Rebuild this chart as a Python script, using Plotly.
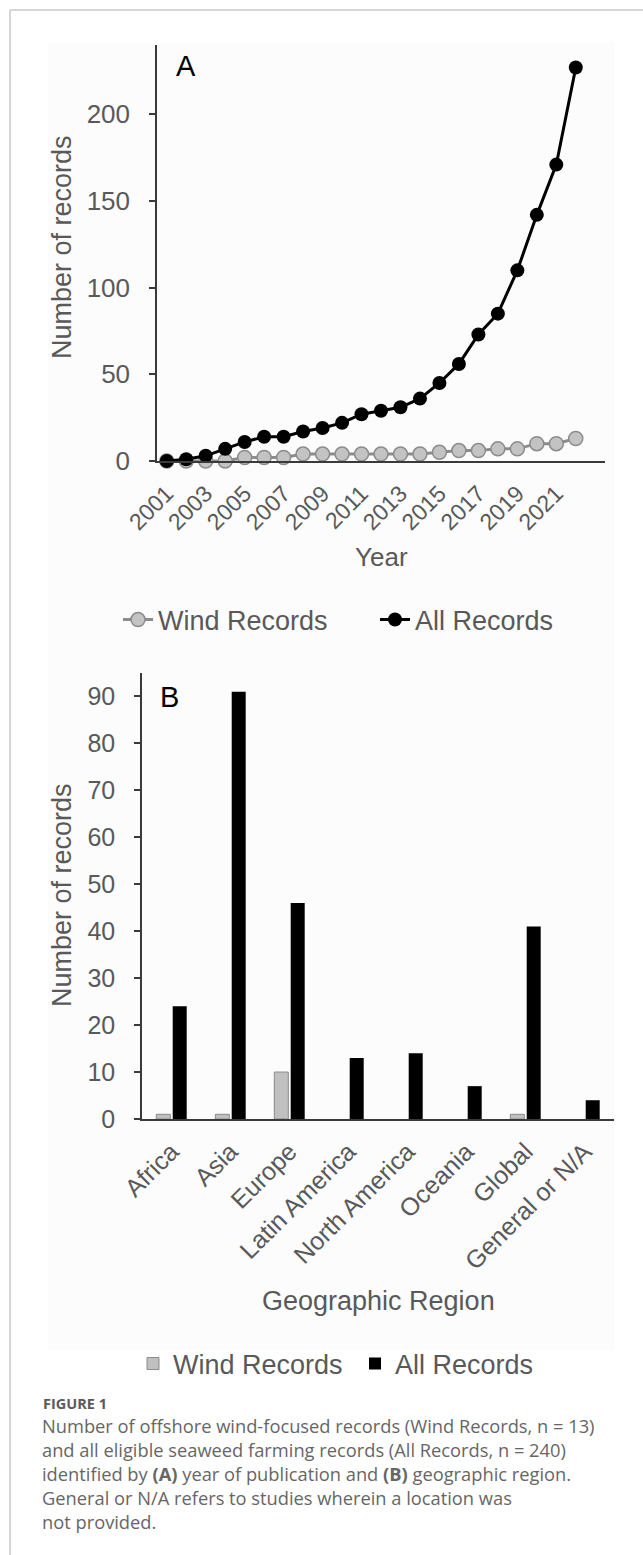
import plotly.graph_objects as go

W, H = 643, 1555

# ---------------- data ----------------
years = list(range(2001, 2023))
wind_by_year = [0, 0, 0, 0, 2, 2, 2, 4, 4, 4, 4, 4, 4, 4, 5, 6, 6, 7, 7, 10, 10, 13]
all_by_year = [0, 1, 3, 7, 11, 14, 14, 17, 19, 22, 27, 29, 31, 36, 45, 56, 73, 85, 110, 142, 171, 227]
year_ticks = list(range(2001, 2022, 2))
a_yticks = [0, 50, 100, 150, 200]

regions = ["Africa", "Asia", "Europe", "Latin America", "North America",
           "Oceania", "Global", "General or N/A"]
wind_by_region = [1, 1, 10, 0, 0, 0, 1, 0]
all_by_region = [24, 91, 46, 13, 14, 7, 41, 4]
b_yticks = [0, 10, 20, 30, 40, 50, 60, 70, 80, 90]

caption_lines = [
    "Number of offshore wind-focused records (Wind Records, n = 13)",
    "and all eligible seaweed farming records (All Records, n = 240)",
    "identified by <b>(A)</b> year of publication and <b>(B)</b> geographic region.",
    "General or N/A refers to studies wherein a location was",
    "not provided.",
]

# ---------------- helpers ----------------
def px(x):
    return x / W

def py(y):
    return 1 - y / H

FONT = "Liberation Sans, Arial, Helvetica, sans-serif"
CAP_FONT = "Open Sans, Noto Sans, sans-serif"
GREY_TXT = "#595959"
AXIS = "#3a3a3a"

fig = go.Figure()

# ---------------- panel A ----------------
fig.add_trace(go.Scatter(
    x=years, y=wind_by_year, name="Wind Records", mode="lines+markers",
    line=dict(color="#8c8c8c", width=3),
    marker=dict(color="#c3c3c3", size=14, line=dict(color="#8c8c8c", width=1.5)),
    cliponaxis=False, xaxis="x", yaxis="y", legend="legend",
))
fig.add_trace(go.Scatter(
    x=years, y=all_by_year, name="All Records", mode="lines+markers",
    line=dict(color="#000000", width=3),
    marker=dict(color="#000000", size=14),
    cliponaxis=False, xaxis="x", yaxis="y", legend="legend",
))

# ---------------- panel B ----------------
fig.add_trace(go.Bar(
    x=regions, y=wind_by_region, name="Wind Records",
    marker=dict(color="#c0c0c0",
                line=dict(color="#8a8a8a", width=[1 if v > 0 else 0 for v in wind_by_region])),
    xaxis="x2", yaxis="y2", legend="legend2",
))
fig.add_trace(go.Bar(
    x=regions, y=all_by_region, name="All Records",
    marker=dict(color="#000000", line=dict(color="#000000", width=0)),
    xaxis="x2", yaxis="y2", legend="legend2",
))

fig.update_layout(
    template="none",
    width=W, height=H,
    margin=dict(l=0, r=0, t=0, b=0, pad=0, autoexpand=False),
    paper_bgcolor="white", plot_bgcolor="rgba(0,0,0,0)",
    font=dict(family=FONT, color=GREY_TXT),
    barmode="group", bargap=0.444, bargroupgap=0.146,
    xaxis=dict(
        domain=[px(157), px(605)], anchor="y", automargin=False,
        range=[2000.5, 2023.5], tickmode="array", tickvals=year_ticks,
        ticktext=[str(v) for v in year_ticks],
        tickangle=-45, tickfont=dict(size=23, color=GREY_TXT),
        showline=True, linecolor=AXIS, linewidth=2, ticks="",
        showgrid=False, zeroline=False, ticklabelstandoff=8,
    ),
    yaxis=dict(
        domain=[py(461), py(45)], anchor="x", automargin=False,
        range=[0, 240], tickmode="array", tickvals=a_yticks,
        tickfont=dict(size=26, color=GREY_TXT),
        showline=True, linecolor=AXIS, linewidth=1.5,
        ticks="outside", ticklen=6, tickwidth=1.5, tickcolor=AXIS,
        showgrid=False, zeroline=False, ticklabelstandoff=14,
    ),
    xaxis2=dict(
        domain=[px(142), px(614)], anchor="y2", automargin=False,
        range=[-0.5, 7.5], type="category",
        tickangle=-45, tickfont=dict(size=25, color=GREY_TXT),
        showline=True, linecolor=AXIS, linewidth=2, ticks="",
        showgrid=False, zeroline=False, ticklabelstandoff=6,
    ),
    yaxis2=dict(
        domain=[py(1119), py(673)], anchor="x2", automargin=False,
        range=[0, 95], tickmode="array", tickvals=b_yticks,
        tickfont=dict(size=25, color=GREY_TXT),
        showline=True, linecolor=AXIS, linewidth=1.5,
        ticks="outside", ticklen=6, tickwidth=1.5, tickcolor=AXIS,
        showgrid=False, zeroline=False, ticklabelstandoff=14,
    ),
    legend=dict(
        orientation="h", x=px(118), xanchor="left", y=py(620), yanchor="middle",
        font=dict(size=27, color=GREY_TXT), bgcolor="rgba(0,0,0,0)",
        entrywidth=212, entrywidthmode="pixels", traceorder="normal",
    ),
    legend2=dict(
        orientation="h", x=px(133), xanchor="left", y=py(1364), yanchor="middle",
        font=dict(size=27, color=GREY_TXT), bgcolor="rgba(0,0,0,0)",
        entrywidth=177, entrywidthmode="pixels", traceorder="normal",
    ),
    showlegend=True,
)

shapes = [
    # faint background of the embedded chart image
    dict(type="rect", xref="paper", yref="paper", x0=px(48), x1=px(615),
         y0=py(1350), y1=py(43), fillcolor="#fcfcfc", line=dict(width=0), layer="below"),
    # page border lines
    dict(type="line", xref="paper", yref="paper", x0=px(10), x1=1, y0=py(10), y1=py(10),
         line=dict(color="#c8c8c8", width=1.5)),
    dict(type="line", xref="paper", yref="paper", x0=px(10), x1=px(10), y0=py(10), y1=0,
         line=dict(color="#c8c8c8", width=1.5)),
]
fig.update_layout(shapes=shapes)

ann = []
ann.append(dict(text="A", x=px(186), y=py(66), xref="paper", yref="paper",
                showarrow=False, font=dict(size=29, color="#000000", family=FONT),
                xanchor="center", yanchor="middle"))
ann.append(dict(text="B", x=px(170), y=py(697), xref="paper", yref="paper",
                showarrow=False, font=dict(size=29, color="#000000", family=FONT),
                xanchor="center", yanchor="middle"))
ann.append(dict(text="Number of records", x=px(62), y=py(247), xref="paper", yref="paper",
                showarrow=False, textangle=-90, font=dict(size=27, color=GREY_TXT, family=FONT),
                xanchor="center", yanchor="middle"))
ann.append(dict(text="Number of records", x=px(62), y=py(895), xref="paper", yref="paper",
                showarrow=False, textangle=-90, font=dict(size=27, color=GREY_TXT, family=FONT),
                xanchor="center", yanchor="middle"))
ann.append(dict(text="Year", x=px(381), y=py(557), xref="paper", yref="paper",
                showarrow=False, font=dict(size=26, color=GREY_TXT, family=FONT),
                xanchor="center", yanchor="middle"))
ann.append(dict(text="Geographic Region", x=px(378), y=py(1301), xref="paper", yref="paper",
                showarrow=False, font=dict(size=27, color=GREY_TXT, family=FONT),
                xanchor="center", yanchor="middle"))
ann.append(dict(text="<b>FIGURE 1</b>", x=px(41), y=py(1403), xref="paper", yref="paper",
                showarrow=False, font=dict(size=14.5, color="#5a5a5a", family=CAP_FONT),
                xanchor="left", yanchor="middle"))
for i, line in enumerate(caption_lines):
    ann.append(dict(text=line, x=px(40), y=py(1425 + 24 * i), xref="paper", yref="paper",
                    showarrow=False, font=dict(size=18.3, color="#666666", family=CAP_FONT),
                    xanchor="left", yanchor="middle"))
fig.update_layout(annotations=ann)

fig.write_html(
    "out.html",
    config={"displayModeBar": False},
    post_script="document.body.style.margin='0';document.body.style.padding='0';"
                "document.body.style.overflow='hidden';"
                "document.documentElement.style.overflow='hidden';",
)
